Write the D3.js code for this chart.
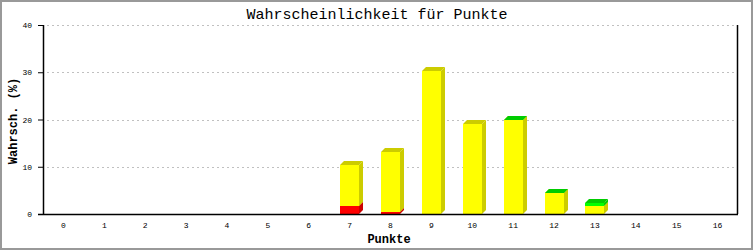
<!DOCTYPE html>
<meta charset="utf-8">
<head>
  <script src="https://d3js.org/d3.v7.min.js"></script>
  <style>
    body { margin: 0; background: #fff; }
    text { font-family: "Liberation Mono", "DejaVu Sans Mono", monospace; fill: #000; }
  </style>
</head>
<body>
<div id="chart"></div>
<script>
  // chart data
  var categories = ["0","1","2","3","4","5","6","7","8","9","10","11","12","13","14","15","16"];
  var redValues    = [0,0,0,0,0,0,0,1.7,0.4,0,0,0,0,0,0,0,0];
  var yellowValues = [0,0,0,0,0,0,0,8.7,12.8,30.3,19.1,19.9,4.4,1.7,0,0,0];
  var greenValues  = [0,0,0,0,0,0,0,0,0,0,0,0.1,0.1,0.6,0,0,0];
  var yTicks = [0, 10, 20, 30, 40];

  var W = 753, H = 250;
  var margin = {top: 25, right: 15, bottom: 36, left: 43};
  var width = W - margin.left - margin.right,
      height = H - margin.top - margin.bottom;

  var svg = d3.select("#chart").append("svg")
      .attr("width", W).attr("height", H);

  // outer frame
  svg.append("rect")
      .attr("x", 1).attr("y", 1).attr("width", W - 2).attr("height", H - 2)
      .attr("fill", "none").attr("stroke", "#999").attr("stroke-width", 2);

  svg.append("text")
      .attr("x", 377).attr("y", 19)
      .attr("text-anchor", "middle")
      .style("font-size", "15px")
      .text("Wahrscheinlichkeit für Punkte");

  var g = svg.append("g").attr("transform", "translate(" + margin.left + "," + margin.top + ")");

  var x = d3.scaleBand().domain(categories).range([0, width]);
  var y = d3.scaleLinear().domain([0, 40]).range([height, 0]);

  // grid lines
  g.selectAll(".grid").data(yTicks.slice(1)).enter().append("line")
      .attr("x1", 4).attr("x2", width)
      .attr("y1", function(d) { return Math.round(y(d)) + 0.5; })
      .attr("y2", function(d) { return Math.round(y(d)) + 0.5; })
      .attr("stroke", "#c0c0c0").attr("stroke-dasharray", "2,3");

  // stacked bars with a fake 3d look
  var rows = categories.map(function(c, i) {
    return {cat: c, red: redValues[i], yellow: yellowValues[i], green: greenValues[i]};
  });
  var keys = ["red", "yellow", "green"];
  var front = {red: "#ff0000", yellow: "#ffff00", green: "#00ff00"};
  var shade = {red: "#cc0000", yellow: "#cccc00", green: "#00cc00"};
  var stack = d3.stack().keys(keys)(rows);

  var barW = 19, dx = 4, dy = 4;
  stack.forEach(function(layer) {
    var k = layer.key;
    layer.forEach(function(s) {
      if (s[1] - s[0] <= 0) return;
      var cx = x(s.data.cat) + x.bandwidth() / 2;
      var x0 = Math.round(cx - barW / 2), x1 = x0 + barW;
      var y0 = Math.round(y(s[0])), y1 = Math.round(y(s[1]));
      g.append("polygon")
          .attr("points", [[x1, y0], [x1 + dx, y0 - dy], [x1 + dx, y1 - dy], [x1, y1]].join(" "))
          .attr("fill", shade[k]);
      g.append("polygon")
          .attr("points", [[x0, y1], [x0 + dx, y1 - dy], [x1 + dx, y1 - dy], [x1, y1]].join(" "))
          .attr("fill", shade[k]);
      g.append("rect")
          .attr("x", x0).attr("y", y1).attr("width", barW).attr("height", y0 - y1)
          .attr("fill", front[k]);
    });
  });

  // y axis
  var yAxis = g.append("g").call(d3.axisLeft(y).tickValues(yTicks).tickSize(5).tickPadding(6));
  yAxis.select(".domain").remove();
  yAxis.selectAll("text").style("font-size", "8px");
  g.append("line").attr("x1", 0.5).attr("x2", 0.5).attr("y1", 0).attr("y2", height)
      .attr("stroke", "#000").attr("stroke-width", 1.5);
  g.append("line").attr("x1", width - 0.5).attr("x2", width - 0.5).attr("y1", 0).attr("y2", height)
      .attr("stroke", "#000").attr("stroke-width", 1.5);

  // x axis
  var xAxis = g.append("g").attr("transform", "translate(0," + height + ")")
      .call(d3.axisBottom(x).tickSize(0).tickPadding(8));
  xAxis.select(".domain").remove();
  xAxis.selectAll("text").style("font-size", "8px");
  g.append("line").attr("x1", -5).attr("x2", width).attr("y1", height + 0.5).attr("y2", height + 0.5)
      .attr("stroke", "#000").attr("stroke-width", 1.5);

  // axis titles
  svg.append("text")
      .attr("x", 389).attr("y", 243)
      .attr("text-anchor", "middle")
      .style("font-size", "12px").style("font-weight", "bold")
      .text("Punkte");
  svg.append("text")
      .attr("transform", "translate(17,121) rotate(-90)")
      .attr("text-anchor", "middle")
      .style("font-size", "12px").style("font-weight", "bold")
      .text("Wahrsch. (%)");
</script>
</body>
